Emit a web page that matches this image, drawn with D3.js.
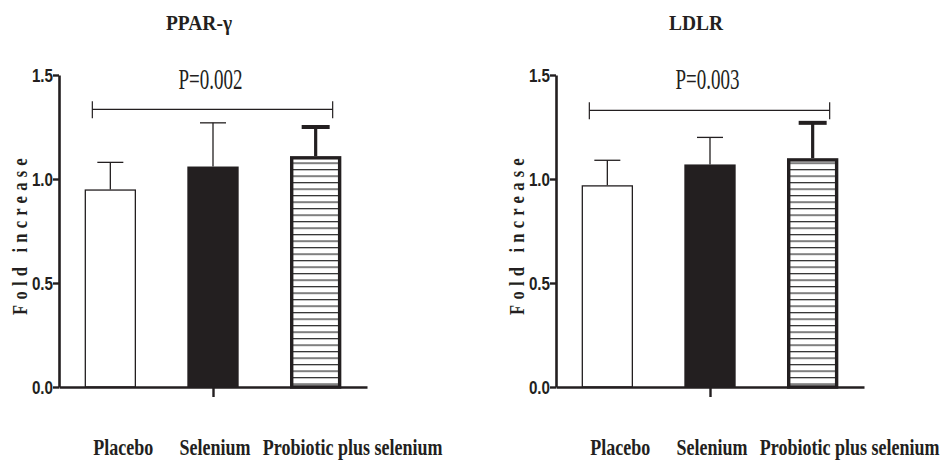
<!DOCTYPE html>
<html>
<head>
<meta charset="utf-8">
<script src="https://cdn.jsdelivr.net/npm/d3@7"></script>
<style>
  html, body { margin: 0; padding: 0; background: #fff; }
  svg { display: block; }
</style>
</head>
<body>
<svg id="chart" width="942" height="461"></svg>
<script>
// ---------- data ----------
const categories = ["Placebo", "Selenium", "Probiotic plus selenium"];
const panelTitles = ["PPAR-\u03b3", "LDLR"];
const pparMeans = [0.95, 1.06, 1.11];
const pparUpper = [1.08, 1.27, 1.25];
const ldlrMeans = [0.97, 1.07, 1.10];
const ldlrUpper = [1.09, 1.20, 1.27];
const pLabels = ["P=0.002", "P=0.003"];
const bracketLevels = [1.335, 1.33];
const yTicks = [0, 0.5, 1.0, 1.5];
const yTickLabels = ["0.0", "0.5", "1.0", "1.5"];
const yAxisTitle = "Fold increase";

// ---------- layout ----------
const ink = "#231f20";
const svg = d3.select("#chart");
const panelOrigins = [59, 556];
const plotW = 308, yTop = 75, yBottom = 387;
const labelDx = [13, 2, 37];

const y = d3.scaleLinear().domain([0, 1.5]).range([yBottom, yTop]);
const x = d3.scaleBand().domain(categories).range([0, plotW])
  .paddingInner(0.5).paddingOuter(0.25);

// hatch pattern
const defs = svg.append("defs");
const pat = defs.append("pattern")
  .attr("id", "hatch").attr("patternUnits", "userSpaceOnUse")
  .attr("x", 0).attr("y", yBottom + 3)
  .attr("width", 20).attr("height", 6.5);
pat.append("rect").attr("width", 20).attr("height", 6.5).attr("fill", "#fff");
pat.append("line").attr("x1", 0).attr("x2", 20).attr("y1", 0.6).attr("y2", 0.6)
  .attr("stroke", "#333").attr("stroke-width", 1.3);

function condText(g, tx, ty, sx, txt) {
  return g.append("text")
    .attr("transform", `translate(${tx},${ty}) scale(${sx},1)`)
    .text(txt);
}

function drawPanel(idx, means, upper) {
  const g = svg.append("g").attr("transform", `translate(${panelOrigins[idx]},0)`);

  // title
  condText(g, x("Selenium") + x.bandwidth() / 2 - 14, 30, 0.95, panelTitles[idx])
    .attr("text-anchor", "middle")
    .attr("font-family", "Liberation Serif, Times New Roman, serif")
    .attr("font-weight", "bold").attr("font-size", 20.5).attr("fill", ink);

  // y axis title
  g.append("text")
    .attr("transform", `translate(-32,${(yTop + yBottom) / 2 + 3}) rotate(-90) scale(0.75,1)`)
    .attr("text-anchor", "middle")
    .attr("font-family", "Liberation Serif, Times New Roman, serif")
    .attr("font-weight", "bold").attr("font-size", 22)
    .attr("letter-spacing", 7)
    .attr("fill", ink)
    .text(yAxisTitle);

  // bars
  const fills = ["#fff", ink, "url(#hatch)"];
  const strokeW = [1.3, 0, 3.4];
  const errW = [1.3, 1.3, 3.2];
  const capW = [1.3, 1.3, 4];
  const capLen = [26, 26, 28];

  categories.forEach((c, i) => {
    const bx = x(c), bw = x.bandwidth(), cx = bx + bw / 2;
    // error line
    g.append("line").attr("x1", cx).attr("x2", cx)
      .attr("y1", y(means[i])).attr("y2", y(upper[i]))
      .attr("stroke", ink).attr("stroke-width", errW[i]);
    g.append("line").attr("x1", cx - capLen[i] / 2).attr("x2", cx + capLen[i] / 2)
      .attr("y1", y(upper[i])).attr("y2", y(upper[i]))
      .attr("stroke", ink).attr("stroke-width", capW[i]);
    const sw = strokeW[i];
    g.append("rect")
      .attr("x", bx + sw / 2).attr("y", y(means[i]) + sw / 2)
      .attr("width", bw - sw).attr("height", y(0) - y(means[i]) - sw / 2)
      .attr("fill", fills[i])
      .attr("stroke", sw > 0 ? ink : "none").attr("stroke-width", sw);
  });

  // axes
  const yAxis = d3.axisLeft(y).tickValues(yTicks).tickSize(6).tickSizeOuter(0)
    .tickFormat((d, i) => yTickLabels[i]);
  const ya = g.append("g").call(yAxis);
  ya.select(".domain").attr("stroke", ink).attr("stroke-width", 2.6);
  ya.selectAll(".tick line").attr("stroke", ink).attr("stroke-width", 2.4);
  ya.selectAll(".tick text").remove();
  ya.selectAll(".tick").each(function (d, i) {
    condText(d3.select(this), -6, 0, 0.8, yTickLabels[i])
      .attr("text-anchor", "end").attr("dy", "0.36em")
      .attr("font-family", "Liberation Sans, Arial, sans-serif")
      .attr("font-weight", "bold").attr("font-size", 19).attr("fill", ink);
  });

  const xl = d3.scaleLinear().domain([0, 1]).range([0, plotW]);
  const xa = g.append("g").attr("transform", `translate(0,${yBottom})`)
    .call(d3.axisBottom(xl).tickValues([0.5]).tickSize(10).tickSizeOuter(0).tickFormat(""));
  xa.select(".domain").attr("stroke", ink).attr("stroke-width", 2.6);
  xa.selectAll(".tick line").attr("stroke", ink).attr("stroke-width", 2.4);

  // category labels
  categories.forEach((c, i) => {
    condText(g, x(c) + x.bandwidth() / 2 + labelDx[i], 455, 0.75, c)
      .attr("text-anchor", "middle")
      .attr("font-family", "Liberation Serif, Times New Roman, serif")
      .attr("font-weight", "bold").attr("font-size", 24).attr("fill", ink);
  });

  // significance bracket
  const bl = x(categories[0]) + x.bandwidth() / 2 - 18;
  const br = x(categories[2]) + x.bandwidth() / 2 + 17;
  const by = y(bracketLevels[idx]);
  g.append("path")
    .attr("d", `M${bl},${by + 9}V${by}H${br}V${by + 9}M${bl},${by - 8}V${by}M${br},${by - 8}V${by}`)
    .attr("fill", "none").attr("stroke", ink).attr("stroke-width", 1.2);
  condText(g, (bl + br) / 2 - 2, 89, 0.655, pLabels[idx])
    .attr("text-anchor", "middle")
    .attr("font-family", "Liberation Serif, Times New Roman, serif")
    .attr("font-size", 29).attr("fill", ink);
}

drawPanel(0, pparMeans, pparUpper);
drawPanel(1, ldlrMeans, ldlrUpper);
</script>
</body>
</html>
